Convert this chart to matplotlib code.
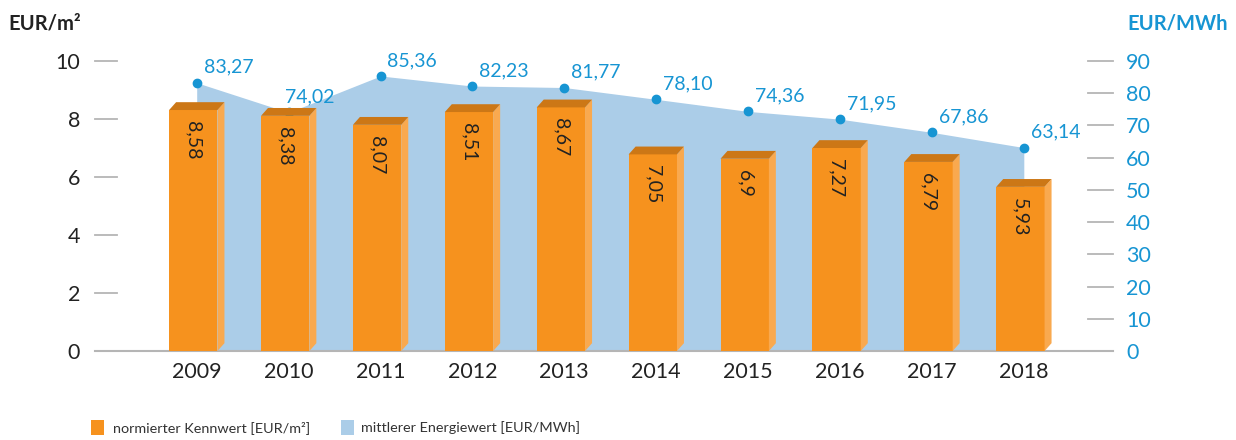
import matplotlib
matplotlib.use("Agg")
import matplotlib.pyplot as plt
from matplotlib.patches import Polygon, Rectangle

plt.rcParams["font.family"] = ["Lato", "DejaVu Sans"]

years = ["2009", "2010", "2011", "2012", "2013", "2014", "2015", "2016", "2017", "2018"]
kennwert = [8.58, 8.38, 8.07, 8.51, 8.67, 7.05, 6.9, 7.27, 6.79, 5.93]
energie = [83.27, 74.02, 85.36, 82.23, 81.77, 78.10, 74.36, 71.95, 67.86, 63.14]
kennwert_labels = ["8,58", "8,38", "8,07", "8,51", "8,67", "7,05", "6,9", "7,27", "6,79", "5,93"]
energie_labels = ["83,27", "74,02", "85,36", "82,23", "81,77", "78,10", "74,36", "71,95", "67,86", "63,14"]

ORANGE = "#f6921e"
ORANGE_TOP = "#cc7716"
ORANGE_SIDE = "#f9a94f"
BLUE_AREA = "#abcde8"
BLUE = "#1795d3"
DARK = "#222222"
GRAY = "#b5b5b5"
PT = 0.72  # px -> pt at 100 dpi

fig = plt.figure(figsize=(12.36, 4.40), dpi=100)
ax = fig.add_axes([95 / 1236, 1 - 351 / 440, (1113 - 95) / 1236, (351 - 40) / 440])
ax2 = ax.twinx()

ymax = (351 - 40) / 29.0
ax.set_ylim(0, ymax)
ax2.set_ylim(0, ymax * 9)
ax.set_xlim((95 - 196.7) / 91.9, (1113 - 196.7) / 91.9)

# put the area axis behind the bars
ax.set_zorder(ax2.get_zorder() + 1)
ax.patch.set_visible(False)

x = list(range(len(years)))

# area + points (right axis)
ax2.fill_between(x, energie, 0, color=BLUE_AREA, lw=0, zorder=1)
ax2.scatter(x, energie, s=36, color=BLUE, zorder=3, clip_on=False)
dx_px = [7, -4, 6, 7, 7, 7, 7, 7, 7, 7]
for i, (v, lab) in enumerate(zip(energie, energie_labels)):
    ax2.annotate(lab, (i, v), xytext=(dx_px[i] * PT, 7 * PT), textcoords="offset points",
                 ha="left", va="bottom", fontsize=14, color=BLUE)

# pseudo-3D bars (left axis)
left_off, right_off = -0.30, 0.226
depth_x, depth_y = 0.076, 0.27
for i, v in enumerate(kennwert):
    l, r = i + left_off, i + right_off
    h = v - depth_y
    ax.bar(l, h, width=r - l, align="edge", color=ORANGE, lw=0, zorder=3)
    ax.add_patch(Polygon([(r, 0), (r, h), (r + depth_x, v), (r + depth_x, depth_y)],
                         closed=True, facecolor=ORANGE_SIDE, lw=0, zorder=3))
    ax.add_patch(Polygon([(l, h), (r, h), (r + depth_x, v), (l + depth_x, v)],
                         closed=True, facecolor=ORANGE_TOP, lw=0, zorder=3))
    ax.text((l + r) / 2, h - 0.38, kennwert_labels[i], rotation=270, ha="center", va="top",
            fontsize=14, color=DARK, zorder=4)

# baseline
ax.plot([0, 1], [0, 0], transform=ax.transAxes, color=GRAY, lw=1.5, zorder=2, clip_on=False)

# tick marks as short dashes
for t in range(0, 11, 2):
    ax.plot([0, 22 / 1018], [t, t], transform=ax.get_yaxis_transform(), color=GRAY, lw=1.3,
            clip_on=False)
for t in range(0, 91, 10):
    ax2.plot([1 - 25 / 1018, 1], [t, t], transform=ax2.get_yaxis_transform(), color=GRAY,
             lw=1.3, clip_on=False)

for a in (ax, ax2):
    for s in a.spines.values():
        s.set_visible(False)

ax.set_xticks(x)
ax.set_xticklabels(years)
ax.tick_params(axis="x", length=0, pad=8, labelsize=15.5, labelcolor=DARK)
ax.set_yticks(range(0, 11, 2))
ax.tick_params(axis="y", length=0, pad=15 * PT, labelsize=15.5, labelcolor=DARK)
ax2.set_yticks(range(0, 91, 10))
ax2.tick_params(axis="y", length=0, pad=13 * PT, labelsize=15.5, labelcolor=BLUE)

# axis titles
fig.text(8 / 1236, 1 - 29 / 440, "EUR/m²", fontsize=14.5, fontweight="bold", color=DARK,
         ha="left", va="baseline")
fig.text(1228 / 1236, 1 - 29 / 440, "EUR/MWh", fontsize=14.5, fontweight="bold", color=BLUE,
         ha="right", va="baseline")

# legend
fig.patches.append(Rectangle((91 / 1236, 1 - 435 / 440), 13 / 1236, 15 / 440,
                             transform=fig.transFigure, color=ORANGE, lw=0))
fig.text(113 / 1236, 1 - 428 / 440, "normierter Kennwert [EUR/m²]", fontsize=10.4,
         color="#333333", va="center")
fig.patches.append(Rectangle((341 / 1236, 1 - 435 / 440), 13 / 1236, 15 / 440,
                             transform=fig.transFigure, color=BLUE_AREA, lw=0))
fig.text(361 / 1236, 1 - 428 / 440, "mittlerer Energiewert [EUR/MWh]", fontsize=10.4,
         color="#333333", va="center")

fig.savefig("out.png", dpi=100)
